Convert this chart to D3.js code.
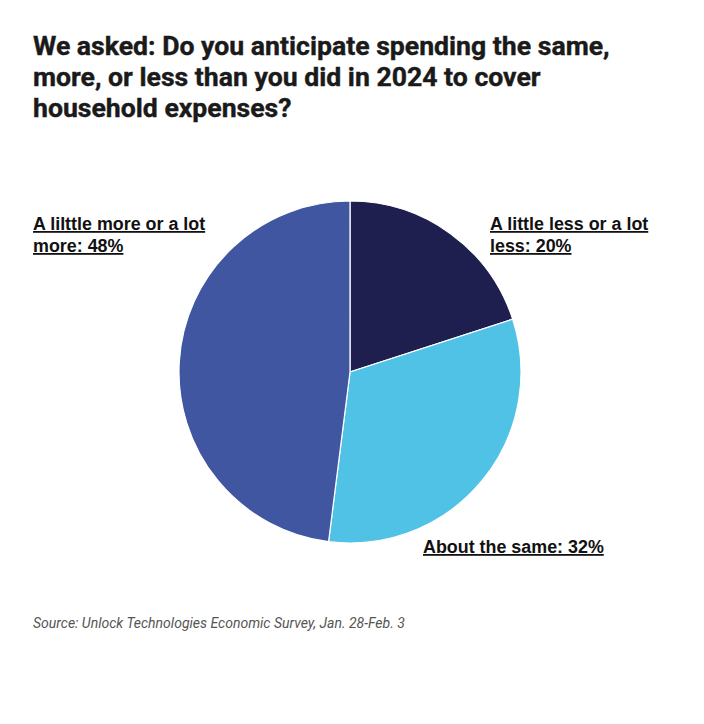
<!DOCTYPE html>
<html><head><meta charset="utf-8">
<script src="https://cdn.jsdelivr.net/npm/d3@7"></script>
<style>html,body{margin:0;padding:0;background:#fff;}</style>
</head><body>
<svg id="c" width="704" height="724"></svg>
<script>
const titleLines = ["We asked: Do you anticipate spending the same,", "more, or less than you did in 2024 to cover", "household expenses?"];
const categories = ["A little less or a lot less", "About the same", "A lilttle more or a lot more"];
const values = [20, 32, 48];
const colors = ["#1e1f4f", "#4fc2e6", "#4056a1"];
const labelLines = [["A little less or a lot", "less: 20%"], ["About the same: 32%"], ["A lilttle more or a lot", "more: 48%"]];
const source = "Source: Unlock Technologies Economic Survey, Jan. 28-Feb. 3";

const svg = d3.select("#c");
function fit(sel, target){
  const w = sel.node().getComputedTextLength();
  const fs = parseFloat(sel.attr("font-size"));
  sel.attr("font-size", fs*target/w);
  return fs*target/w;
}
// title
const tt = svg.append("g");
titleLines.forEach((t,i)=>{
  tt.append("text").attr("x",33).attr("y",55+i*31)
    .attr("font-family","Roboto").attr("font-weight","bold").attr("font-size",26)
    .attr("fill","#1a1a1a").attr("stroke","#1a1a1a").attr("stroke-width",0.4).text(t);
});
const fs0 = fit(tt.select("text"), 577);
tt.selectAll("text").attr("font-size", fs0);

// pie
const cx=350, cy=372, r=171;
const pie = d3.pie().sort(null).value(d=>d)(values);
const arc = d3.arc().innerRadius(0).outerRadius(r);
svg.append("g").attr("transform",`translate(${cx},${cy})`)
  .selectAll("path").data(pie).join("path")
  .attr("d",arc).attr("fill",(d,i)=>colors[i])
  .attr("stroke","#fff").attr("stroke-width",1.2);

// labels
const labelPos = [[490,230],[423,553],[33,230]];
const lg = svg.append("g");
labelLines.forEach((lines,i)=>{
  lines.forEach((t,j)=>{
    lg.append("text").attr("x",labelPos[i][0]).attr("y",labelPos[i][1]+j*22)
      .attr("font-family","Liberation Sans, Arial").attr("font-weight","bold")
      .attr("font-size",17).attr("fill","#111").attr("text-decoration","underline").text(t);
  });
});
const lfs = fit(lg.selectAll("text").filter(function(){return this.textContent===labelLines[1][0];}), 181);
lg.selectAll("text").attr("font-size", lfs);

const st = svg.append("text").attr("x",33).attr("y",628).attr("font-family","Roboto")
  .attr("font-style","italic").attr("font-size",13).attr("fill","#555").text(source);
fit(st, 372);
</script>
</body></html>
